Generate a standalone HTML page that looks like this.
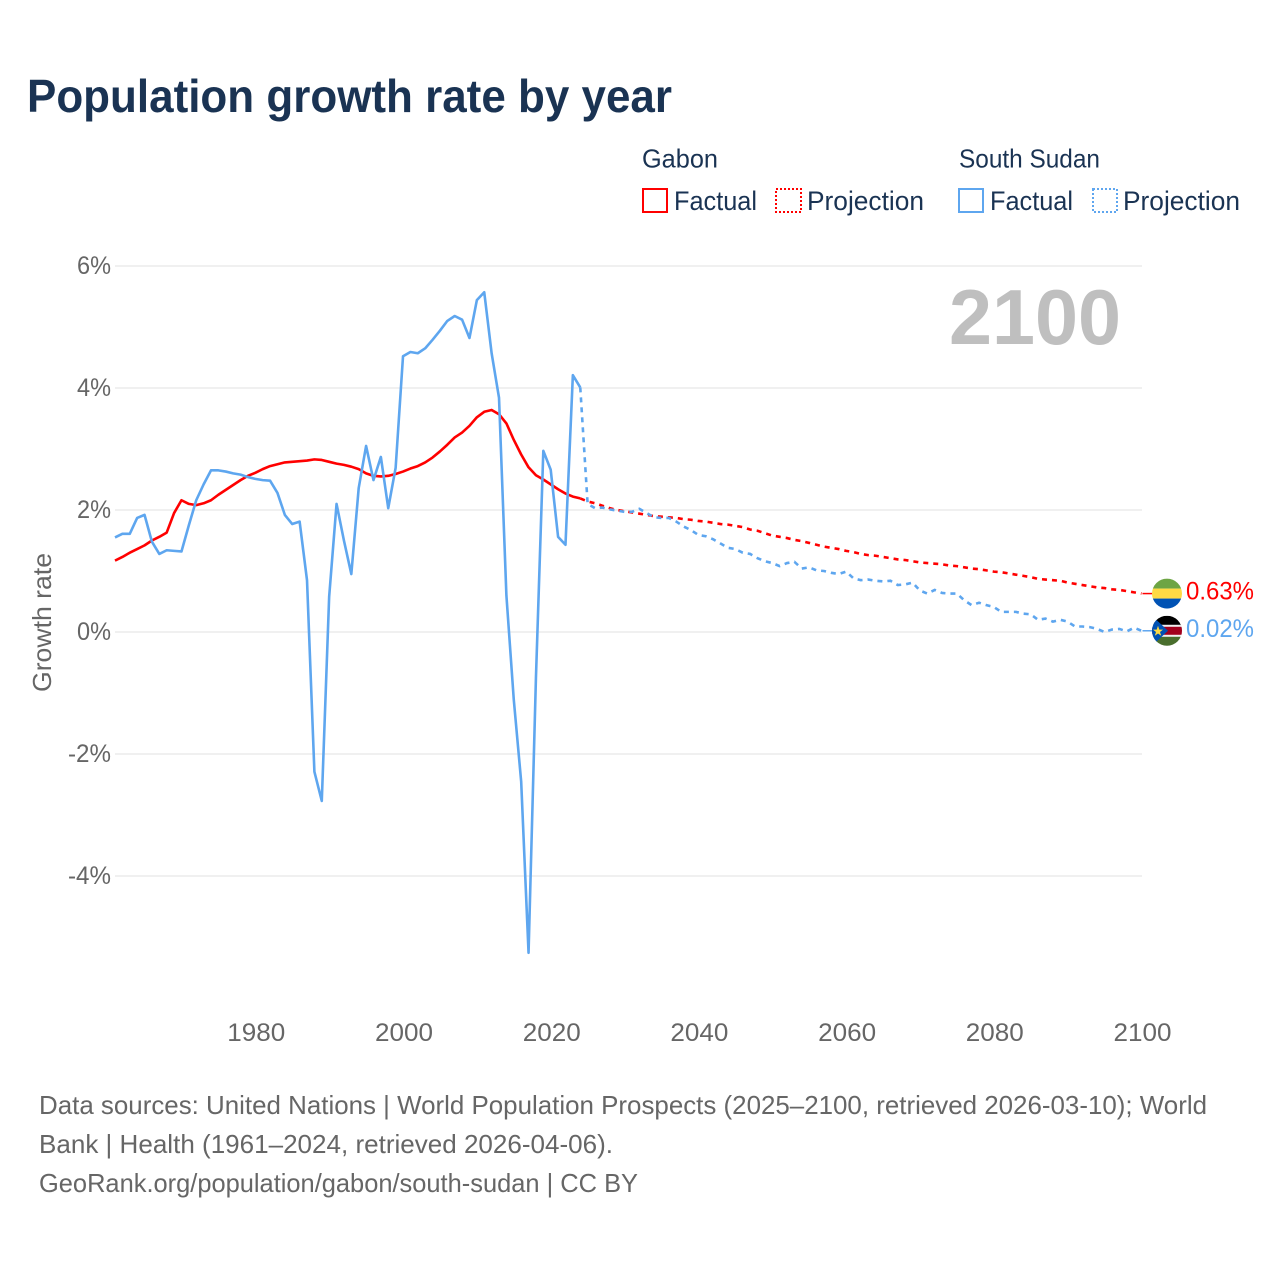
<!DOCTYPE html>
<html lang="en">
<head>
<meta charset="utf-8">
<title>Population growth rate by year</title>
<style>
html,body{margin:0;padding:0;background:#fff;width:1280px;height:1280px;overflow:hidden}
svg{display:block}
text{font-family:"Liberation Sans",sans-serif}
</style>
</head>
<body>
<svg id="chart" xmlns="http://www.w3.org/2000/svg" width="1280" height="1280" viewBox="0 0 1280 1280">
  <defs>
    <clipPath id="clip-gabon"><circle id="clip-gabon-circle" cx="1167" cy="593" r="15"/></clipPath>
    <clipPath id="clip-sudan"><circle id="clip-sudan-circle" cx="1167" cy="631" r="15"/></clipPath>
  </defs>
  <text x="27" y="112" font-size="46" font-weight="700" fill="#1a3353" textLength="645" lengthAdjust="spacingAndGlyphs">Population growth rate by year</text>

  <g>
    <text x="642" y="167.5" font-size="26" fill="#1a3353" textLength="76" lengthAdjust="spacingAndGlyphs">Gabon</text>
    <rect x="643" y="189" width="24" height="23" fill="none" stroke="#ff0000" stroke-width="2"/>
    <text x="674" y="210" font-size="27" fill="#1a3353" textLength="83" lengthAdjust="spacingAndGlyphs">Factual</text>
    <rect x="776" y="189" width="25" height="23" fill="none" stroke="#ff0000" stroke-width="2" stroke-dasharray="2 2"/>
    <text x="807" y="210" font-size="27" fill="#1a3353" textLength="117" lengthAdjust="spacingAndGlyphs">Projection</text>
    <text x="959" y="167.5" font-size="26" fill="#1a3353" textLength="141" lengthAdjust="spacingAndGlyphs">South Sudan</text>
    <rect x="959" y="189" width="24" height="23" fill="none" stroke="#5ea6ef" stroke-width="2"/>
    <text x="990" y="210" font-size="27" fill="#1a3353" textLength="83" lengthAdjust="spacingAndGlyphs">Factual</text>
    <rect x="1093" y="189" width="24" height="23" fill="none" stroke="#5ea6ef" stroke-width="2" stroke-dasharray="2 2"/>
    <text x="1123" y="210" font-size="27" fill="#1a3353" textLength="117" lengthAdjust="spacingAndGlyphs">Projection</text>
  </g>

  <text transform="translate(51,692) rotate(-90)" font-size="26" fill="#666666" textLength="139" lengthAdjust="spacingAndGlyphs">Growth rate</text>

  <g id="grid-layer"></g>
  <g id="y-tick-layer"></g>
  <g id="x-tick-layer"></g>

  <text x="949" y="344" font-size="78" font-weight="700" fill="#bfbfbf" textLength="172" lengthAdjust="spacingAndGlyphs">2100</text>

  <g id="series-layer"></g>

  <g id="flag-gabon" clip-path="url(#clip-gabon)">
    <rect x="1152" y="578" width="30" height="10" fill="#6da544"/>
    <rect x="1152" y="588" width="30" height="10" fill="#ffda44"/>
    <rect x="1152" y="598" width="30" height="10" fill="#0052b4"/>
  </g>
  <g id="flag-sudan" clip-path="url(#clip-sudan)">
    <rect x="1152" y="616" width="30" height="10" fill="#000000"/>
    <rect x="1152" y="625" width="30" height="12" fill="#f0f0f0"/>
    <rect x="1152" y="627" width="30" height="8" fill="#a2001d"/>
    <rect x="1152" y="637" width="30" height="10" fill="#496e2d"/>
    <polygon points="1152,616 1168,631 1152,646" fill="#0052b4"/>
    <polygon points="1158,626 1159.3,629.8 1163,629.8 1160,632.2 1161.2,636 1158,633.7 1154.8,636 1156,632.2 1153,629.8 1156.7,629.8" fill="#ffda44"/>
  </g>

  <g>
    <text x="39" y="1114" font-size="26" fill="#666666" textLength="1168" lengthAdjust="spacingAndGlyphs">Data sources: United Nations | World Population Prospects (2025–2100, retrieved 2026-03-10); World</text>
    <text x="39" y="1153" font-size="26" fill="#666666" textLength="574" lengthAdjust="spacingAndGlyphs">Bank | Health (1961–2024, retrieved 2026-04-06).</text>
    <text x="39" y="1192" font-size="26" fill="#666666" textLength="599" lengthAdjust="spacingAndGlyphs">GeoRank.org/population/gabon/south-sudan | CC BY</text>
  </g>
</svg>

<script>
const xTickYears = [1980, 2000, 2020, 2040, 2060, 2080, 2100];
const yTickValues = [6, 4, 2, 0, -2, -4];
const factualStartYear = 1961;
const projectionStartYear = 2024;

const gabonFactual = [1.17,1.23,1.30,1.36,1.42,1.50,1.56,1.63,1.95,2.16,2.10,2.08,2.11,2.16,2.25,2.33,2.41,2.49,2.56,2.61,2.67,2.72,2.75,2.78,2.79,2.80,2.81,2.83,2.82,2.79,2.76,2.74,2.71,2.67,2.60,2.56,2.55,2.56,2.59,2.63,2.68,2.72,2.78,2.86,2.96,3.07,3.19,3.27,3.38,3.52,3.61,3.64,3.57,3.42,3.15,2.91,2.70,2.57,2.50,2.42,2.34,2.27,2.22,2.19];

const gabonProjection = [2.19,2.14,2.11,2.07,2.03,2.00,1.98,1.96,1.94,1.92,1.90,1.89,1.88,1.87,1.85,1.84,1.82,1.81,1.79,1.77,1.76,1.74,1.72,1.68,1.66,1.62,1.58,1.56,1.54,1.51,1.49,1.46,1.43,1.40,1.38,1.36,1.33,1.31,1.28,1.26,1.25,1.23,1.21,1.19,1.18,1.16,1.14,1.13,1.12,1.11,1.09,1.08,1.06,1.04,1.03,1.01,0.99,0.98,0.96,0.94,0.92,0.90,0.87,0.86,0.85,0.84,0.81,0.79,0.77,0.75,0.73,0.72,0.70,0.69,0.67,0.65,0.63];

const sudanFactual = [1.55,1.61,1.61,1.87,1.92,1.48,1.28,1.34,1.33,1.32,1.75,2.16,2.42,2.65,2.65,2.63,2.60,2.58,2.54,2.51,2.49,2.48,2.28,1.92,1.77,1.81,0.85,-2.29,-2.77,0.58,2.10,1.50,0.95,2.36,3.05,2.49,2.87,2.03,2.69,4.52,4.59,4.57,4.65,4.79,4.94,5.10,5.18,5.12,4.82,5.44,5.57,4.57,3.84,0.60,-1.11,-2.45,-5.26,-0.75,2.97,2.66,1.56,1.43,4.21,4.01];

const sudanProjection = [4.01,2.10,2.03,2.04,2.01,1.99,1.97,1.97,2.02,1.95,1.88,1.87,1.87,1.81,1.73,1.67,1.59,1.57,1.52,1.45,1.38,1.36,1.30,1.28,1.21,1.16,1.13,1.08,1.13,1.15,1.04,1.06,1.01,1.00,0.97,0.95,0.99,0.88,0.85,0.86,0.84,0.83,0.84,0.77,0.78,0.81,0.68,0.63,0.69,0.64,0.63,0.63,0.52,0.44,0.48,0.44,0.41,0.33,0.33,0.33,0.30,0.29,0.20,0.22,0.17,0.20,0.17,0.09,0.09,0.08,0.05,0.00,0.04,0.05,0.01,0.07,0.02];

const SVG_NS = 'http://www.w3.org/2000/svg';
const X_LEFT_YEAR = 1961, X_RIGHT_YEAR = 2100;
const X_LEFT_PX = 115, X_RIGHT_PX = 1141.5;
const GRID_LEFT_PX = 115, GRID_RIGHT_PX = 1142;
const Y_ZERO_PX = 632, Y_PX_PER_UNIT = 61;
const RED = '#ff0000', BLUE = '#5ea6ef';

function xScale(year) {
  return X_LEFT_PX + (year - X_LEFT_YEAR) * (X_RIGHT_PX - X_LEFT_PX) / (X_RIGHT_YEAR - X_LEFT_YEAR);
}
function yScale(value) {
  return Y_ZERO_PX - value * Y_PX_PER_UNIT;
}
function make(tag) {
  return document.createElementNS(SVG_NS, tag);
}
function linePath(values, startYear) {
  return values.map(function (v, i) {
    return (i ? 'L' : 'M') + xScale(startYear + i).toFixed(2) + ' ' + yScale(v).toFixed(2);
  }).join(' ');
}

const gridLayer = document.getElementById('grid-layer');
const yTickLayer = document.getElementById('y-tick-layer');
const xTickLayer = document.getElementById('x-tick-layer');
const seriesLayer = document.getElementById('series-layer');

yTickValues.forEach(function (v) {
  const grid = make('line');
  
  
  grid.setAttribute('x1', GRID_LEFT_PX);
  grid.setAttribute('x2', GRID_RIGHT_PX);
  grid.setAttribute('y1', yScale(v));
  grid.setAttribute('y2', yScale(v));
  grid.setAttribute('stroke', '#ebebeb');
  grid.setAttribute('stroke-width', '1.6');
  gridLayer.appendChild(grid);

  const label = make('text');
  
  
  label.setAttribute('x', 111);
  label.setAttribute('y', yScale(v) + 8);
  label.setAttribute('text-anchor', 'end');
  label.setAttribute('font-size', '25');
  label.setAttribute('fill', '#666666');
  label.setAttribute('textLength', v < 0 ? 43 : 34);
  label.setAttribute('lengthAdjust', 'spacingAndGlyphs');
  label.textContent = v + '%';
  yTickLayer.appendChild(label);
});

xTickYears.forEach(function (year) {
  const label = make('text');
  
  
  label.setAttribute('x', xScale(year) + 1);
  label.setAttribute('y', 1041);
  label.setAttribute('text-anchor', 'middle');
  label.setAttribute('font-size', '25');
  label.setAttribute('fill', '#666666');
  label.setAttribute('textLength', 58);
  label.setAttribute('lengthAdjust', 'spacingAndGlyphs');
  label.textContent = year;
  xTickLayer.appendChild(label);
});

function drawSeries(name, color, factual, projection) {
  const projLine = make('path');
  
  
  projLine.setAttribute('d', linePath(projection, projectionStartYear));
  projLine.setAttribute('fill', 'none');
  projLine.setAttribute('stroke', color);
  projLine.setAttribute('stroke-width', '2.6');
  projLine.setAttribute('stroke-dasharray', '5 5');
  seriesLayer.appendChild(projLine);

  const factLine = make('path');
  
  
  factLine.setAttribute('d', linePath(factual, factualStartYear));
  factLine.setAttribute('fill', 'none');
  factLine.setAttribute('stroke', color);
  factLine.setAttribute('stroke-width', '2.6');
  factLine.setAttribute('stroke-linejoin', 'round');
  seriesLayer.appendChild(factLine);

  const last = projection[projection.length - 1];

  const connector = make('line');
  
  
  connector.setAttribute('x1', xScale(X_RIGHT_YEAR) + 1);
  connector.setAttribute('x2', xScale(X_RIGHT_YEAR) + 11);
  connector.setAttribute('y1', yScale(last));
  connector.setAttribute('y2', yScale(last));
  connector.setAttribute('stroke', color);
  connector.setAttribute('stroke-width', '1.5');
  seriesLayer.appendChild(connector);

  const endLabel = make('text');
  
  
  endLabel.setAttribute('x', 1186);
  endLabel.setAttribute('y', yScale(last) + 6);
  endLabel.setAttribute('font-size', '25');
  endLabel.setAttribute('fill', color);
  endLabel.setAttribute('textLength', 68);
  endLabel.setAttribute('lengthAdjust', 'spacingAndGlyphs');
  endLabel.textContent = last.toFixed(2) + '%';
  seriesLayer.appendChild(endLabel);
}

drawSeries('gabon', RED, gabonFactual, gabonProjection);
drawSeries('south-sudan', BLUE, sudanFactual, sudanProjection);

function placeFlag(groupId, clipId, value) {
  const dy = yScale(value) - parseFloat(document.getElementById(clipId).getAttribute('cy'));
  document.getElementById(clipId).setAttribute('cy', yScale(value));
  Array.prototype.forEach.call(document.getElementById(groupId).children, function (child) {
    child.setAttribute('transform', 'translate(0,' + dy + ')');
  });
}
placeFlag('flag-gabon', 'clip-gabon-circle', gabonProjection[gabonProjection.length - 1]);
placeFlag('flag-sudan', 'clip-sudan-circle', sudanProjection[sudanProjection.length - 1]);
</script>
</body>
</html>
